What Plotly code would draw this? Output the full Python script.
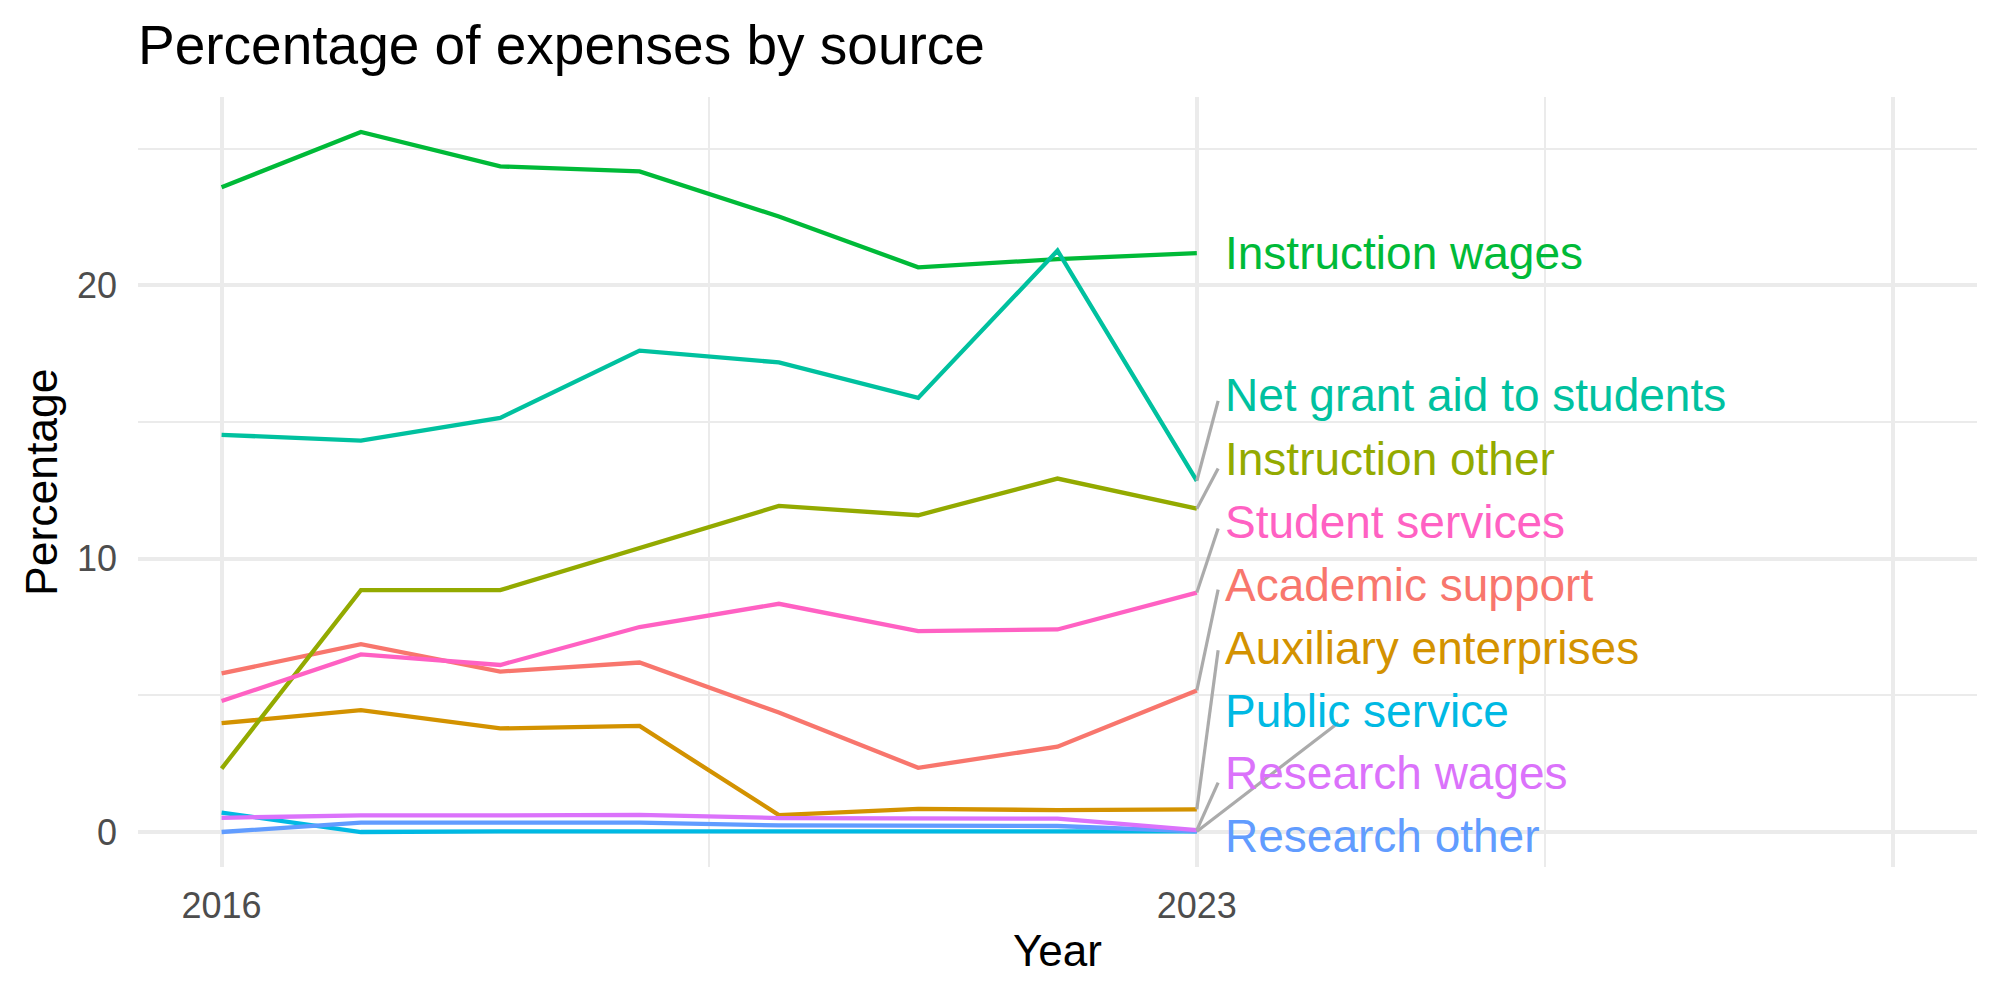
import plotly.graph_objects as go

years = [2016, 2017, 2018, 2019, 2020, 2021, 2022, 2023]

categories = [
    "Academic support", "Auxiliary enterprises", "Instruction other",
    "Instruction wages", "Net grant aid to students", "Public service",
    "Research other", "Research wages", "Student services",
]

academic_support = [5.80, 6.87, 5.87, 6.20, 4.37, 2.35, 3.12, 5.18]
auxiliary_enterprises = [3.98, 4.46, 3.79, 3.88, 0.62, 0.85, 0.80, 0.83]
instruction_other = [2.32, 8.85, 8.85, 10.40, 11.93, 11.59, 12.93, 11.83]
instruction_wages = [23.59, 25.61, 24.35, 24.17, 22.52, 20.66, 20.96, 21.18]
net_grant_aid = [14.53, 14.32, 15.15, 17.61, 17.18, 15.88, 21.27, 12.85]
public_service = [0.71, 0.00, 0.02, 0.02, 0.03, 0.03, 0.05, 0.02]
research_other = [0.00, 0.34, 0.34, 0.34, 0.24, 0.22, 0.22, 0.02]
research_wages = [0.52, 0.61, 0.61, 0.63, 0.51, 0.49, 0.49, 0.07]
student_services = [4.79, 6.50, 6.11, 7.50, 8.35, 7.35, 7.41, 8.76]

series = [academic_support, auxiliary_enterprises, instruction_other,
          instruction_wages, net_grant_aid, public_service,
          research_other, research_wages, student_services]

colors = ["#F8766D", "#D39200", "#93AA00", "#00BA38", "#00C19F",
          "#00B9E3", "#619CFF", "#DB72FB", "#FF61C3"]

# repelled label positions (data units), as placed in the reference
label_x = 2023.19
label_y = [9.04, 6.74, 13.65, 21.17, 15.99, 4.43, -0.15, 2.16, 11.35]
# end points of the connector segments (None = no segment)
seg_end = [(2023.153, 8.87), (2023.153, 6.65), (2023.153, 13.30), None,
           (2023.153, 15.77), (2024.016, 4.00), None, (2023.153, 1.81),
           (2023.153, 11.10)]

FONT = "Liberation Sans, Arial, Helvetica, sans-serif"
GRID = "#EBEBEB"

fig = go.Figure()

for name, vals, col in zip(categories, series, colors):
    fig.add_trace(go.Scatter(x=years, y=vals, mode="lines", name=name,
                             line=dict(color=col, width=4.3),
                             showlegend=False, hoverinfo="skip"))

for vals, end in zip(series, seg_end):
    if end is None:
        continue
    fig.add_trace(go.Scatter(x=[years[-1], end[0]], y=[vals[-1], end[1]],
                             mode="lines", line=dict(color="#ABABAB", width=3.2),
                             showlegend=False, hoverinfo="skip"))

annotations = []
for name, ly, col in zip(categories, label_y, colors):
    annotations.append(dict(x=label_x, y=ly, xref="x", yref="y", text=name,
                            showarrow=False, xanchor="left", yanchor="middle",
                            font=dict(family=FONT, size=46, color=col)))

annotations.append(dict(x=0.5, y=0, xref="paper", yref="paper", text="Year",
                        showarrow=False, xanchor="center", yanchor="middle",
                        yshift=-83, font=dict(family=FONT, size=44, color="black")))
annotations.append(dict(x=0, y=0.5, xref="paper", yref="paper", text="Percentage",
                        showarrow=False, xanchor="center", yanchor="middle",
                        xshift=-97, textangle=-90,
                        font=dict(family=FONT, size=44.5, color="black")))

fig.update_layout(
    width=2000, height=1000,
    margin=dict(l=138, r=23, t=97, b=133),
    paper_bgcolor="white", plot_bgcolor="white",
    title=dict(text="Percentage of expenses by source", x=0, xref="paper",
               xanchor="left", y=1 - 45 / 1000, yref="container", yanchor="middle",
               font=dict(family=FONT, size=55, color="black")),
    annotations=annotations,
    xaxis=dict(range=[2015.4, 2028.6], tickvals=[2016, 2023, 2028],
               ticktext=["2016", "2023", ""], showgrid=True, gridcolor=GRID,
               gridwidth=3.8, zeroline=False, showline=False, ticks="",
               ticklabelstandoff=14,
               tickfont=dict(family=FONT, size=36, color="#4D4D4D"),
               minor=dict(tickvals=[2019.5, 2025.5], showgrid=True,
                          gridcolor=GRID, gridwidth=1.9)),
    yaxis=dict(range=[-1.28, 26.89], tickvals=[0, 10, 20],
               showgrid=True, gridcolor=GRID, gridwidth=3.8, zeroline=False,
               showline=False, ticks="", ticklabelstandoff=20,
               tickfont=dict(family=FONT, size=36, color="#4D4D4D"),
               minor=dict(tickvals=[5, 15, 25], showgrid=True,
                          gridcolor=GRID, gridwidth=1.9)),
)

fig.write_html("out.html")
